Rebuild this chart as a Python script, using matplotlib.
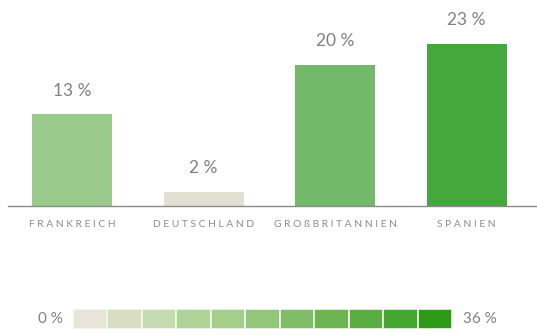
import matplotlib.pyplot as plt
from matplotlib.patches import Rectangle

countries = ["FRANKREICH", "DEUTSCHLAND", "GROßBRITANNIEN", "SPANIEN"]
shares = [13, 2, 20, 23]
bar_colors = ["#9bca8d", "#e2dfd3", "#73b96a", "#45a83c"]

scale_min, scale_max = 0, 36
scale_colors = ["#e8e4da", "#d8ddc3", "#c5dbb0", "#b0d398", "#a5ce8c", "#93c57b",
                "#81bd67", "#6db453", "#5aad42", "#45a531", "#2f9a18"]

W, H = 537, 334
fig = plt.figure(figsize=(W / 100, H / 100), dpi=100)
fig.patch.set_facecolor("white")

text_color = "#808080"
font = "Lato"

# main bar chart
base_px = 206
px_per_pct = 7.05
left_px, right_px = 8, 537
center0, spacing = 72, 131.5
x0 = (left_px - center0) / spacing
x1 = (right_px - center0) / spacing
ax = fig.add_axes([left_px / W, (H - base_px) / H, (right_px - left_px) / W, base_px / H])
ax.set_xlim(x0, x1)
ax.set_ylim(0, base_px / px_per_pct)
xs = list(range(len(countries)))
ax.bar(xs, shares, width=80 / spacing, color=bar_colors, zorder=2)
for x, v in zip(xs, shares):
    ax.text(x, v + 2.2, f"{v} %", ha="center", va="bottom", fontsize=12.5,
            color=text_color, family=font)
for s in ["top", "right", "left"]:
    ax.spines[s].set_visible(False)
ax.spines["bottom"].set_color("#8a8a8a")
ax.spines["bottom"].set_linewidth(1.0)
ax.set_yticks([])
ax.set_xticks(xs)
ax.set_xticklabels([" ".join(c) for c in countries], fontsize=7.4, color="#8c8c8c",
                   family=font)
ax.tick_params(axis="x", length=0, pad=10)

# colour scale legend
lx0, lx1, ly0, ly1 = 73, 452, 309, 329
lax = fig.add_axes([lx0 / W, (H - ly1) / H, (lx1 - lx0) / W, (ly1 - ly0) / H])
n = len(scale_colors)
for i, c in enumerate(scale_colors):
    lax.add_patch(Rectangle((i, 0), 1, 1, facecolor=c, edgecolor="#f4f9ee", linewidth=1.2))
lax.set_xlim(0, n)
lax.set_ylim(0, 1)
lax.axis("off")
fig.text((lx0 - 10) / W, (H - 319) / H, f"{scale_min} %", ha="right", va="center",
         fontsize=11, color=text_color, family=font)
fig.text((lx1 + 11) / W, (H - 319) / H, f"{scale_max} %", ha="left", va="center",
         fontsize=11, color=text_color, family=font)

fig.savefig("out.png", dpi=100, facecolor="white")
